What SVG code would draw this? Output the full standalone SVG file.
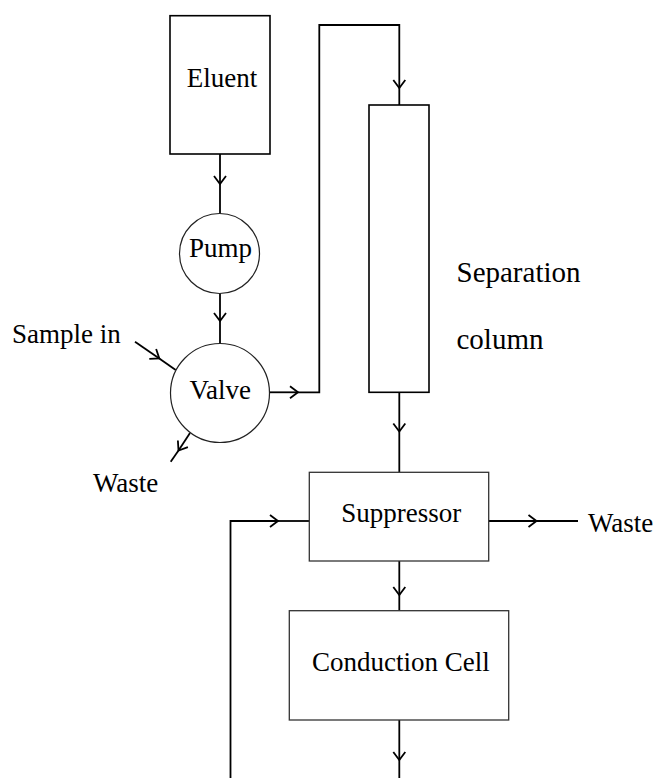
<svg xmlns="http://www.w3.org/2000/svg" width="659" height="778" viewBox="0 0 659 778">
<style>
text{font-family:'Liberation Serif','Times New Roman',Tinos,'DejaVu Serif',serif;font-size:27px;fill:#000}
.c{text-anchor:middle}
.box{fill:#fff;stroke:#000;stroke-width:1.6}
.box2{fill:#fff;stroke:#333;stroke-width:1.3}
.circ{fill:#fff;stroke:#222;stroke-width:1.2}
.ln{fill:none;stroke:#000;stroke-width:1.8}
</style>
<defs>
<marker id="chev" viewBox="-10 -8 12 16" markerWidth="12" markerHeight="16" refX="0" refY="0" orient="auto" markerUnits="userSpaceOnUse">
<path d="M-8,-6 L0,0 L-8,6" fill="none" stroke="#000" stroke-width="1.8"/>
</marker>
</defs>
<g id="connectors">
<path class="ln" d="M220,154 V184" marker-end="url(#chev)"/><path class="ln" d="M220,184 V214"/>
<path class="ln" d="M220,293 V321" marker-end="url(#chev)"/><path class="ln" d="M220,321 V343"/>
<path class="ln" d="M135,341.7 L159.3,358.5" marker-end="url(#chev)"/><path class="ln" d="M159.3,358.5 L175.7,370"/>
<path class="ln" d="M190,433 L178.5,450.5" marker-end="url(#chev)"/><path class="ln" d="M178.5,450.5 L170.7,461.7"/>
<path class="ln" d="M269.3,392.3 H298" marker-end="url(#chev)"/><path class="ln" d="M298,392.3 H319.3 V25 H399.3 V88" marker-end="url(#chev)"/><path class="ln" d="M399.3,88 V105"/>
<path class="ln" d="M399.3,392.3 V431.5" marker-end="url(#chev)"/><path class="ln" d="M399.3,431.5 V472"/>
<path class="ln" d="M489,521 H536.5" marker-end="url(#chev)"/><path class="ln" d="M536.5,521 H578"/>
<path class="ln" d="M230.5,778 V521 H278" marker-end="url(#chev)"/><path class="ln" d="M278,521 H309"/>
<path class="ln" d="M399.3,561 V595" marker-end="url(#chev)"/><path class="ln" d="M399.3,595 V610.7"/>
<path class="ln" d="M399.3,720 V760" marker-end="url(#chev)"/><path class="ln" d="M399.3,760 V778"/>
</g>
<g id="eluent"><rect class="box" x="170" y="15.7" width="100" height="138.3"/><text class="c" x="222" y="87.3" font-family="Liberation Serif, serif">Eluent</text></g>
<g id="pump"><circle class="circ" cx="219.5" cy="253.5" r="40"/><text class="c" x="220.5" y="257.3">Pump</text></g>
<g id="valve"><circle class="circ" cx="220" cy="393" r="49.5"/><text class="c" x="220.3" y="399">Valve</text></g>
<g id="sample-in"><text x="12" y="343.3">Sample in</text></g>
<g id="waste-left"><text x="93" y="491.7">Waste</text></g>
<g id="column"><rect class="box" x="369" y="105" width="60" height="287.3"/><text x="456.5" y="281.7" style="font-size:29px">Separation</text><text x="456.5" y="349" style="font-size:29px">column</text></g>
<g id="suppressor"><rect class="box2" x="309.3" y="472.3" width="179.4" height="88.7"/><text class="c" x="401.3" y="521.7">Suppressor</text></g>
<g id="waste-right"><text x="588" y="531.7">Waste</text></g>
<g id="conduction-cell"><rect class="box2" x="289.3" y="610.7" width="219.4" height="109.3"/><text class="c" x="400.8" y="670.7">Conduction Cell</text></g>
</svg>
